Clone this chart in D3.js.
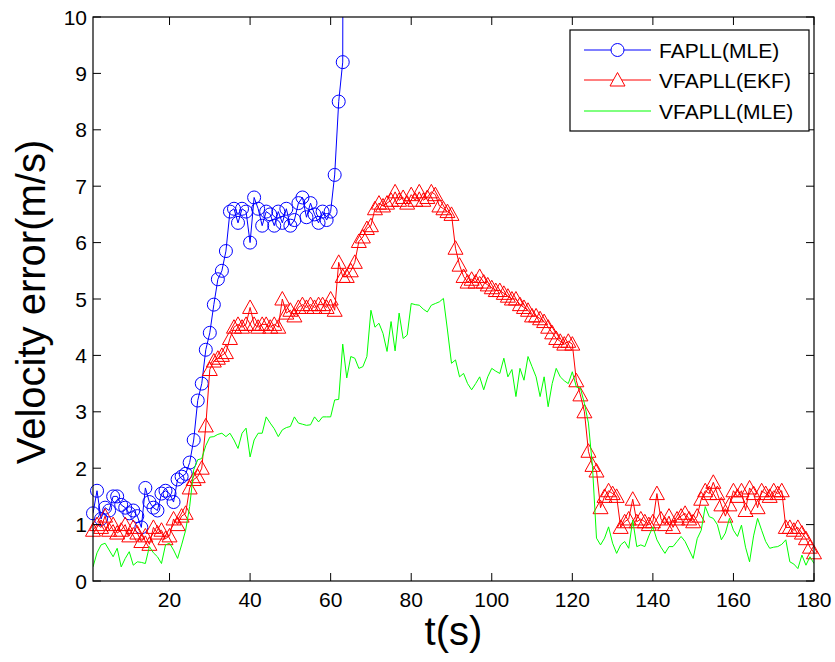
<!DOCTYPE html>
<html>
<head lang="en">
    <meta charset="UTF-8">
    <title>Velocity error</title>
    <script src="https://d3js.org/d3.v7.min.js" charset="utf-8"></script>
    <style>
        body { margin: 0; background: #fff; }
        svg { font-family: "Liberation Sans", Arial, sans-serif; }
    </style>
</head>
<body>
<div id="chart"></div>
<script>
    // values, one per second
    var fapllMle = [1.2, 1.6, 1.1, 1.3, 1.25, 1.5, 1.5, 1.35, 1.3, 1.2,
        1.25, 1.15, 0.95, 1.65, 1.4, 1.3, 1.25, 1.55, 1.6, 1.55,
        1.4, 1.8, 1.85, 1.9, 2.1, 2.5, 3.2, 3.5, 4.1, 4.4,
        4.9, 5.35, 5.5, 5.85, 6.55, 6.6, 6.35, 6.6, 6.55, 6.0,
        6.8, 6.6, 6.3, 6.55, 6.5, 6.3, 6.55, 6.35, 6.6, 6.3,
        6.4, 6.7, 6.8, 6.45, 6.7, 6.5, 6.35, 6.55, 6.4, 6.55,
        7.2, 8.5, 9.2, 50];

    var vfapllEkf = [0.9, 1.0, 0.95, 1.15, 0.9, 1.0, 0.85, 0.9, 1.0, 0.8,
        0.95, 0.85, 0.7, 0.8, 0.65, 0.95, 0.85, 0.9, 0.75, 0.8,
        1.1, 1.0, 1.15, 1.2, 1.65, 1.8, 1.85, 2.0, 2.75, 3.75,
        3.9, 3.95, 4.0, 4.05, 4.3, 4.5, 4.55, 4.5, 4.55, 4.85,
        4.55, 4.5, 4.55, 4.55, 4.5, 4.55, 4.5, 5.0, 4.75, 4.8,
        4.7, 4.85, 4.9, 4.85, 4.9, 4.85, 4.9, 4.9, 4.85, 5.0,
        4.8, 5.65, 5.4, 5.4, 5.5, 5.65, 6.02, 6.1, 6.25, 6.3,
        6.6, 6.7, 6.65, 6.7, 6.75, 6.9, 6.75, 6.8, 6.7, 6.85,
        6.75, 6.9, 6.75, 6.8, 6.9, 6.85, 6.65, 6.6, 6.55, 6.5,
        5.9, 5.6, 5.4, 5.3, 5.35, 5.3, 5.4, 5.3, 5.25, 5.2,
        5.15, 5.15, 5.1, 5.05, 5.0, 5.0, 4.9, 4.85, 4.8, 4.7,
        4.7, 4.65, 4.6, 4.5, 4.4, 4.3, 4.25, 4.2, 4.25, 4.2,
        3.55, 3.3, 3.0, 2.3, 2.05, 1.95, 1.3, 1.5, 1.6, 1.55,
        1.5, 0.95, 1.05, 1.1, 1.45, 1.05, 1.1, 1.05, 1.0, 1.05,
        1.55, 1.1, 1.0, 1.15, 0.95, 1.1, 1.15, 1.2, 1.1, 1.05,
        1.15, 1.45, 1.6, 1.55, 1.75, 1.55, 1.35, 1.15, 1.35, 1.6,
        1.5, 1.6, 1.25, 1.65, 1.55, 1.3, 1.6, 1.55, 1.5, 1.6,
        1.55, 1.6, 0.95, 0.95, 0.9, 0.95, 0.85, 0.75, 0.6, 0.5];

    var vfapllMle = [0.25, 0.5, 0.64, 0.67, 0.55, 0.43, 0.58, 0.25, 0.4, 0.52,
        0.28, 0.34, 0.33, 0.31, 0.61, 0.5, 0.43, 0.31, 0.64, 0.67,
        0.55, 0.4, 0.64, 0.9, 1.32, 1.97, 2.15, 2.17, 2.4, 2.55,
        2.56, 2.6, 2.62, 2.56, 2.62, 2.5, 2.35, 2.62, 2.71, 2.2,
        2.5, 2.62, 2.62, 2.91, 2.8, 2.7, 2.56, 2.68, 2.72, 2.74,
        2.91, 2.8, 2.78, 2.76, 2.77, 2.91, 2.82, 2.91, 2.91, 2.91,
        3.21, 3.22, 4.2, 3.6, 3.98, 3.95, 3.77, 3.8, 3.98, 4.8,
        4.5, 4.57, 4.39, 4.07, 4.6, 4.08, 4.75, 4.3, 4.36, 4.92,
        4.9, 4.89, 4.82, 4.77, 4.89, 4.92, 4.95, 5.01, 4.45, 3.86,
        3.92, 3.62, 3.68, 3.5, 3.39, 3.5, 3.62, 3.39, 3.62, 3.77,
        3.72, 3.68, 3.95, 3.62, 3.75, 3.27, 3.77, 3.56, 3.98, 3.8,
        3.62, 3.27, 3.62, 3.09, 3.5, 3.77, 3.62, 3.55, 3.5, 3.71,
        3.44, 3.42, 3.15, 2.8, 2.03, 0.76, 0.64, 0.76, 0.96, 0.67,
        0.49, 0.64, 0.7, 0.58, 1.08, 0.61, 0.64, 0.61, 0.8, 0.96,
        0.73, 0.6, 0.49, 0.61, 0.61, 0.7, 0.79, 0.7, 0.55, 0.4,
        0.75, 0.9, 1.32, 1.14, 1.11, 1.0, 0.73, 0.85, 1.11, 0.9,
        0.79, 0.99, 0.6, 0.34, 0.8, 1.11, 0.9, 0.7, 0.58, 0.6,
        0.61, 0.65, 0.73, 0.34, 0.3, 0.22, 0.46, 0.28, 0.43, 0.31];

    var xTicks = [20, 40, 60, 80, 100, 120, 140, 160, 180];
    var yTicks = [0, 1, 2, 3, 4, 5, 6, 7, 8, 9, 10];
    var legendNames = ["FAPLL(MLE)", "VFAPLL(EKF)", "VFAPLL(MLE)"];

    var W = 835, H = 662;
    // plot box in pixels (names avoid window.top)
    var pL = 93, pR = 814, pT = 17, pB = 581;

    var x = d3.scaleLinear().domain([1, 180]).range([pL, pR]);
    var y = d3.scaleLinear().domain([0, 10]).range([pB, pT]);

    var svg = d3.select("#chart").append("svg").attr("width", W).attr("height", H);

    svg.append("defs").append("clipPath").attr("id", "plotclip")
        .append("rect").attr("x", pL).attr("y", pT)
        .attr("width", pR - pL).attr("height", pB - pT);

    function pts(arr) {
        return arr.map(function (v, i) { return {t: i + 1, v: v}; });
    }
    var line = d3.line().x(function (d) { return x(d.t); }).y(function (d) { return y(d.v); });
    var inside = function (d) { return d.v <= 10 && d.v >= 0; };
    var triPath = "M0,-7.5L7.5,6L-7.5,6Z";

    var blue = pts(fapllMle), red = pts(vfapllEkf), green = pts(vfapllMle);

    // FAPLL(MLE)
    svg.append("path").datum(blue).attr("d", line)
        .attr("clip-path", "url(#plotclip)")
        .attr("fill", "none").attr("stroke", "#0000ff").attr("stroke-width", 1);
    svg.append("g").selectAll("circle").data(blue.filter(inside)).enter().append("circle")
        .attr("cx", function (d) { return x(d.t); })
        .attr("cy", function (d) { return y(d.v); })
        .attr("r", 6.5)
        .attr("fill", "none").attr("stroke", "#0000ff").attr("stroke-width", 1);

    // VFAPLL(EKF)
    svg.append("path").datum(red).attr("d", line)
        .attr("clip-path", "url(#plotclip)")
        .attr("fill", "none").attr("stroke", "#ff0000").attr("stroke-width", 1);
    svg.append("g").selectAll("path").data(red.filter(inside)).enter().append("path")
        .attr("transform", function (d) { return "translate(" + x(d.t) + "," + y(d.v) + ")"; })
        .attr("d", triPath)
        .attr("fill", "none").attr("stroke", "#ff0000").attr("stroke-width", 1);

    // VFAPLL(MLE)
    svg.append("path").datum(green).attr("d", line)
        .attr("clip-path", "url(#plotclip)")
        .attr("fill", "none").attr("stroke", "#00ff00").attr("stroke-width", 1);

    // axes box
    svg.append("rect").attr("x", pL).attr("y", pT)
        .attr("width", pR - pL).attr("height", pB - pT)
        .attr("fill", "none").attr("stroke", "#000").attr("stroke-width", 1.2);

    var tickLen = 8;
    var xt = svg.append("g");
    xTicks.forEach(function (t) {
        xt.append("line").attr("x1", x(t)).attr("x2", x(t)).attr("y1", pB).attr("y2", pB - tickLen)
            .attr("stroke", "#000");
        xt.append("line").attr("x1", x(t)).attr("x2", x(t)).attr("y1", pT).attr("y2", pT + tickLen)
            .attr("stroke", "#000");
        xt.append("text").attr("x", x(t)).attr("y", 607).attr("text-anchor", "middle")
            .attr("font-size", "21px").attr("fill", "#000").text(t);
    });
    var yt = svg.append("g");
    yTicks.forEach(function (t) {
        yt.append("line").attr("x1", pL).attr("x2", pL + tickLen).attr("y1", y(t)).attr("y2", y(t))
            .attr("stroke", "#000");
        yt.append("line").attr("x1", pR).attr("x2", pR - tickLen).attr("y1", y(t)).attr("y2", y(t))
            .attr("stroke", "#000");
        yt.append("text").attr("x", 87).attr("y", y(t)).attr("dy", "0.36em").attr("text-anchor", "end")
            .attr("font-size", "21px").attr("fill", "#000").text(t);
    });

    svg.append("text").attr("x", (pL + pR) / 2).attr("y", 645).attr("text-anchor", "middle")
        .attr("font-size", "40px").attr("fill", "#000").text("t(s)");
    svg.append("text").attr("transform", "translate(45," + 302 + ") rotate(-90)")
        .attr("text-anchor", "middle").attr("font-size", "40px").attr("fill", "#000")
        .text("Velocity error(m/s)");

    // legend
    var lg = svg.append("g");
    lg.append("rect").attr("x", 570).attr("y", 30).attr("width", 239).attr("height", 101)
        .attr("fill", "#fff").attr("stroke", "#000").attr("stroke-width", 1.2);
    var colors = ["#0000ff", "#ff0000", "#00ff00"];
    var rowY = [50, 80, 111];
    legendNames.forEach(function (name, i) {
        lg.append("line").attr("x1", 584).attr("x2", 651).attr("y1", rowY[i]).attr("y2", rowY[i])
            .attr("stroke", colors[i]).attr("stroke-width", 1);
        if (i == 0) {
            lg.append("circle").attr("cx", 617.5).attr("cy", rowY[i]).attr("r", 6.5)
                .attr("fill", "#fff").attr("stroke", colors[i]);
        }
        if (i == 1) {
            lg.append("path").attr("transform", "translate(617.5," + rowY[i] + ")")
                .attr("d", triPath).attr("fill", "#fff").attr("stroke", colors[i]);
        }
        lg.append("text").attr("x", 659).attr("y", rowY[i]).attr("dy", "0.36em")
            .attr("font-size", "21px").attr("fill", "#000").text(name);
    });
</script>
</body>
</html>
